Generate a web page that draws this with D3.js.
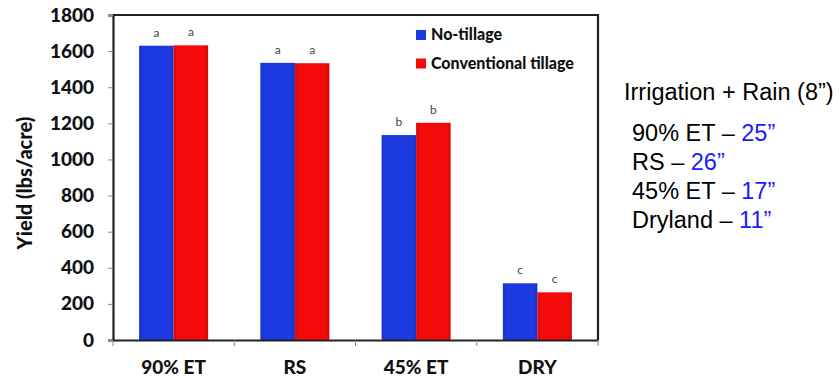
<!DOCTYPE html>
<html><head><meta charset="utf-8">
<script src="https://cdn.jsdelivr.net/npm/d3@7"></script>
<style>body{margin:0;background:#fff}svg{display:block}</style>
</head><body>
<script>
const categories = ["90% ET", "RS", "45% ET", "DRY"];
const seriesNames = ["No-tillage", "Conventional tillage"];
const noTillage = [1630, 1535, 1135, 314];
const conventional = [1632, 1533, 1203, 264];
const letters = [["a","a"],["a","a"],["b","b"],["c","c"]];
const yTicks = [0,200,400,600,800,1000,1200,1400,1600,1800];
const noteTitle = "Irrigation + Rain (8\u201D)";
const noteLabels = ["90% ET \u2013 ", "RS \u2013 ", "45% ET \u2013 ", "Dryland \u2013 "];
const noteValues = ["25\u201D", "26\u201D", "17\u201D", "11\u201D"];
const colors = ["#1c3ae0", "#f50a0a"];

const W = 840, H = 381;
const m = {left:113, top:15, right:598, bottom:340};
const svg = d3.select("body").append("svg").attr("width", W).attr("height", H);
const font = "Lato, 'Open Sans', sans-serif";
const fw = 900;

const x = d3.scaleBand().domain(categories).range([m.left, m.right]).padding(0);
const y = d3.scaleLinear().domain([0,1800]).range([m.bottom, m.top]);
const barW = 34.5;

// frame
svg.append("path").attr("d", `M${m.left},${m.top}H${m.right}V${m.bottom}`)
  .attr("fill","none").attr("stroke","#222").attr("stroke-width",2.2);

// bars
const defs = svg.append("defs");
colors.forEach((c,i)=>{
  const g = defs.append("linearGradient").attr("id","g"+i).attr("x1",0).attr("x2",1).attr("y1",0).attr("y2",0);
  g.append("stop").attr("offset","0%").attr("stop-color",d3.color(c).darker(0.4));
  g.append("stop").attr("offset","12%").attr("stop-color",c);
  g.append("stop").attr("offset","88%").attr("stop-color",c);
  g.append("stop").attr("offset","100%").attr("stop-color",d3.color(c).darker(0.4));
});
const series = [noTillage, conventional];
series.forEach((vals, si) => {
  svg.append("g").selectAll("rect").data(categories).join("rect")
    .attr("x", d => x(d) + x.bandwidth()/2 - barW + si*barW)
    .attr("y", (d,i) => y(vals[i]))
    .attr("width", barW)
    .attr("height", (d,i) => y(0) - y(vals[i]))
    .attr("fill", `url(#g${si})`);
  svg.append("g").selectAll("text").data(categories).join("text")
    .attr("x", d => x(d) + x.bandwidth()/2 - barW/2 + si*barW)
    .attr("y", (d,i) => y(vals[i]) - 9)
    .attr("text-anchor","middle")
    .attr("font-family", font).attr("font-size", 12).attr("fill","#444")
    .text((d,i) => letters[i][si]);
});

// y axis
const yAxis = svg.append("g").attr("transform",`translate(${m.left},0)`)
  .call(d3.axisLeft(y).tickValues(yTicks).tickFormat(d3.format("d")).tickSize(5).tickPadding(14));
yAxis.select(".domain").attr("stroke","#222").attr("stroke-width",2.2);
yAxis.selectAll(".tick line").attr("stroke","#888");
yAxis.selectAll("text").attr("font-family",font).attr("font-weight",fw)
  .attr("font-size",19).attr("fill","#111");

// x axis
const xAxis = svg.append("g").attr("transform",`translate(0,${m.bottom})`)
  .call(d3.axisBottom(x).tickSize(0).tickPadding(21));
xAxis.select(".domain").attr("stroke","#222").attr("stroke-width",2.2);
xAxis.selectAll("text").attr("font-family",font).attr("font-weight",fw)
  .attr("font-size",19).attr("fill","#111");
const bounds = categories.map(c => x(c)).concat([m.right]);
svg.append("g").selectAll("line").data(bounds).join("line")
  .attr("x1", d=>d).attr("x2", d=>d).attr("y1", m.bottom).attr("y2", m.bottom+6)
  .attr("stroke","#888").attr("stroke-width",1);

// y label
svg.append("text").attr("transform",`translate(32,183) rotate(-90)`)
  .attr("text-anchor","middle").attr("font-family",font).attr("font-weight",fw)
  .attr("font-size",20).attr("fill","#111").text("Yield (lbs/acre)");

// legend
const lg = svg.append("g");
seriesNames.forEach((n,i)=>{
  const yy = 35 + i*28.5;
  lg.append("rect").attr("x",416).attr("y",yy-5).attr("width",10).attr("height",10).attr("fill",colors[i]);
  lg.append("text").attr("x",431).attr("y",yy+5).attr("font-family",font).attr("font-weight",fw)
    .attr("font-size",16).attr("fill","#111").text(n);
});

// note
const nf = "'Liberation Sans', Arial, sans-serif";
svg.append("text").attr("x",624).attr("y",100).attr("font-family",nf).attr("font-size",23.5)
  .attr("fill","#000").text(noteTitle);
noteLabels.forEach((l,i)=>{
  const t = svg.append("text").attr("x",632).attr("y",141 + i*29).attr("font-family",nf).attr("font-size",23.5).attr("fill","#000");
  t.append("tspan").text(l);
  t.append("tspan").attr("fill","#1a1aff").text(noteValues[i]);
});
</script>
</body></html>
